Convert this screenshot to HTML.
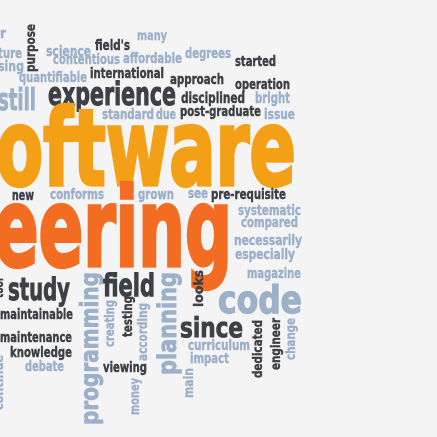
<!DOCTYPE html>
<html><head><meta charset="utf-8">
<style>
html,body{margin:0;padding:0;background:#f4f4f4;}
svg{display:block;}
text{font-family:"DejaVu Sans Condensed","DejaVu Sans","Liberation Sans",sans-serif;font-weight:bold;}
</style></head>
<body>
<svg id="cloud" width="437" height="437" viewBox="0 0 437 437" xmlns="http://www.w3.org/2000/svg">
<rect width="437" height="437" fill="#f4f4f4"/>
</svg>
<script>
const D='#3e4046', L='#9cb0ca', O='#f4a016', R='#f26c22';
// word, x, y(baseline), size, length, color, vertical
const words=[
['r',0,38,14,6,L,0],
['ture',-2,58,14,24,L,0],
['sing',-2,71,14,26,L,0],
['purpose',37,72,13,48,D,1],
['many',137,40,13,30,L,0],
['science',46,56,14,45,L,0],
['field\'s',95,50,14,35,D,0],
['contentious',53,64,14,67,L,0],
['affordable',123,63,14,59,L,0],
['degrees',185,58,14,46,L,0],
['started',235,66,14,41,D,0],
['quantifiable',19,82,14,68,L,0],
['international',90,78,14,74,D,0],
['approach',170,84,14,54,D,0],
['operation',235,89,14,55,D,0],
['still',-2,110,30,38,L,0],
['experience',48,105,32,128,D,0],
['disciplined',181,103,15,64,D,0],
['bright',255,103,15,35,L,0],
['standard',102,119,14,52,L,0],
['due',156,119,14,20,L,0],
['post-graduate',180,116,14,81,D,0],
['issue',264,119,14,31,L,0],
['oftware',-4,185,106,300,O,0],
['new',12,200,14,22,D,0],
['conforms',50,199,14,54,L,0],
['grown',138,199,14,36,L,0],
['see',188,198,14,20,L,0],
['pre-requisite',211,199,14,75,D,0],
['eering',-6,266,110,238,R,0],
['systematic',238,215,14,63,L,0],
['compared',241,227,14,57,L,0],
['necessarily',234,245,14,68,L,0],
['especially',235,259,14,60,L,0],
['magazine',247,278,14,54,L,0],
['tool',5,298,12,20,D,1],
['study',8,300,31,62,D,0],
['maintainable',0,319,14,73,D,0],
['maintenance',0,342,14,72,D,0],
['knowledge',10,357,14,62,D,0],
['debate',25,371,14,39,L,0],
['continue',5,410,12,55,L,1],
['programming',100,425,25,153,L,1],
['field',103,296,31,52,D,0],
['creating',116,347,13,47,L,1],
['testing',134,337,13,41,D,1],
['according',149,361,13,58,L,1],
['planning',178,375,26,103,L,1],
['viewing',103,372,14,44,D,0],
['money',141,415,13,37,L,1],
['looks',205,307,13,37,D,1],
['code',218,313,38,84,L,0],
['since',180,337,28,63,D,0],
['curriculum',188,350,14,62,L,0],
['impact',190,363,14,39,L,0],
['main',195,398,13,30,L,1],
['dedicated',264,378,13,58,D,1],
['engineer',282,370,13,52,D,1],
['change',297,360,13,42,L,1]
];
const svg=document.getElementById('cloud');
const NS='http://www.w3.org/2000/svg';
words.forEach(w=>{
  const t=document.createElementNS(NS,'text');
  t.textContent=w[0];
  t.setAttribute('font-size',w[3]);
  t.setAttribute('fill',w[5]);
  t.setAttribute('stroke',w[5]);
  t.setAttribute('stroke-width',(w[3]*0.03).toFixed(2));
  t.setAttribute('textLength',w[4]);
  t.setAttribute('lengthAdjust','spacingAndGlyphs');
  if(w[6]){
    t.setAttribute('x',0);t.setAttribute('y',0);
    t.setAttribute('transform','translate('+(w[1]-2)+','+w[2]+') rotate(-90)');
  } else {
    t.setAttribute('x',w[1]);t.setAttribute('y',w[2]);
  }
  
  
  svg.appendChild(t);
});
</script>
</body></html>
